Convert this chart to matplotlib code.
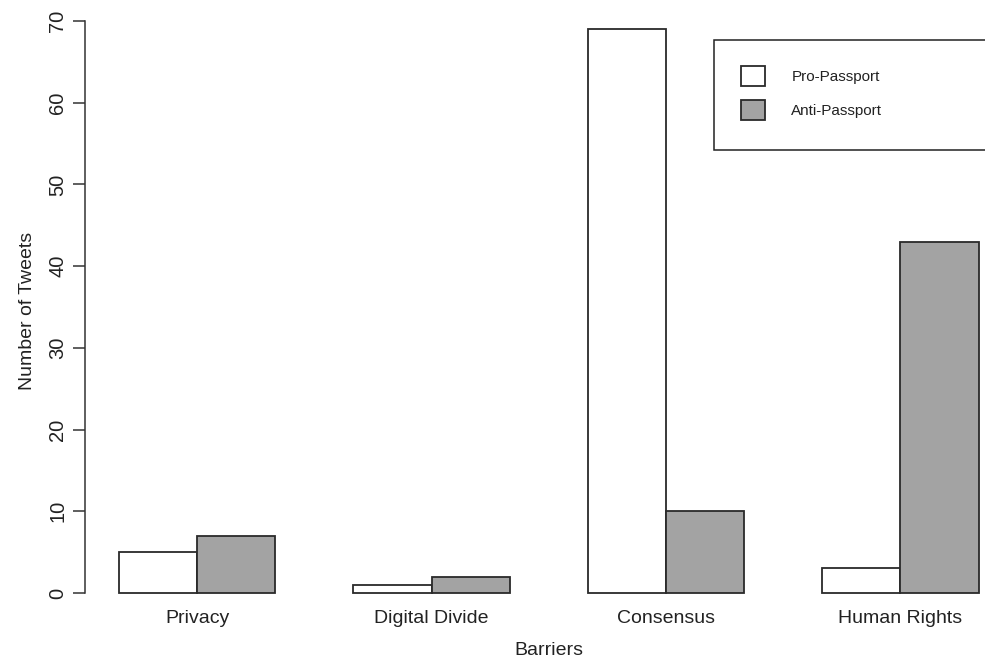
import matplotlib
matplotlib.use("Agg")
import matplotlib.pyplot as plt
import numpy as np
from matplotlib.patches import Rectangle

categories = ["Privacy", "Digital Divide", "Consensus", "Human Rights"]
pro_passport = [5, 1, 69, 3]
anti_passport = [7, 2, 10, 43]
series_labels = ["Pro-Passport", "Anti-Passport"]
y_ticks = [0, 10, 20, 30, 40, 50, 60, 70]

plt.rcParams['font.family'] = ['Liberation Sans', 'DejaVu Sans']

W, H = 985, 665
fig = plt.figure(figsize=(W / 100, H / 100), dpi=100)

# plot region in pixels (from top-left)
left_px, right_px = 84.5, 1013.0
top_px, bottom_px = 6.6, 615.5
ax = fig.add_axes([left_px / W, 1 - bottom_px / H,
                   (right_px - left_px) / W, (bottom_px - top_px) / H])

# R barplot(beside=TRUE) positions: groups of width 2 separated by 1
n = len(categories)
group_start = 1 + 3 * np.arange(n)
pro_x = group_start + 0.5
anti_x = group_start + 1.5
edge = "#2a2a2a"
b1 = ax.bar(pro_x, pro_passport, width=1.0, color="white", edgecolor=edge, linewidth=1.3)
b2 = ax.bar(anti_x, anti_passport, width=1.0, color="#a3a3a3", edgecolor=edge, linewidth=1.3)

xmin, xmax = 1, 3 * n
xr = xmax - xmin
ax.set_xlim(xmin - 0.04 * xr, xmax + 0.04 * xr)
ymax = max(max(pro_passport), max(anti_passport))
ax.set_ylim(-0.04 * ymax, ymax * 1.04)

for s in ["top", "right", "bottom"]:
    ax.spines[s].set_visible(False)
ax.spines["left"].set_bounds(y_ticks[0], y_ticks[-1])
ax.spines["left"].set_color("#333333")
ax.spines["left"].set_linewidth(1.1)

ax.set_yticks(y_ticks)
ax.set_yticklabels([str(t) for t in y_ticks], rotation=90, va="center", fontsize=14.5, color="#222222")
ax.tick_params(axis="y", length=9, width=1.1, color="#333333", pad=3.5)

ax.set_xticks(group_start + 1.0)
ax.set_xticklabels(categories, fontsize=14, color="#222222")
ax.tick_params(axis="x", length=0, pad=-4)

ax.set_xlabel("Barriers", fontsize=14, color="#222222", labelpad=11)
ax.set_ylabel("Number of Tweets", fontsize=14, color="#222222", labelpad=9)

# legend frame (extends past the right edge as in the reference)
frame = Rectangle((714 / W, 1 - 150 / H), 300 / W, 110 / H, transform=fig.transFigure,
                  facecolor="white", edgecolor="#222222", linewidth=1.1, clip_on=False, zorder=5)
fig.patches.append(frame)
leg = fig.legend([b1, b2], series_labels, loc="upper left",
                 bbox_to_anchor=(741 / W, 1 - 66 / H), frameon=False, fontsize=11,
                 handlelength=1.6, handleheight=1.6, handletextpad=1.7, labelspacing=0.95,
                 borderpad=0, borderaxespad=0)
leg.set_zorder(6)
for t in leg.get_texts():
    t.set_color("#222222")

fig.savefig("out.png", dpi=100)
